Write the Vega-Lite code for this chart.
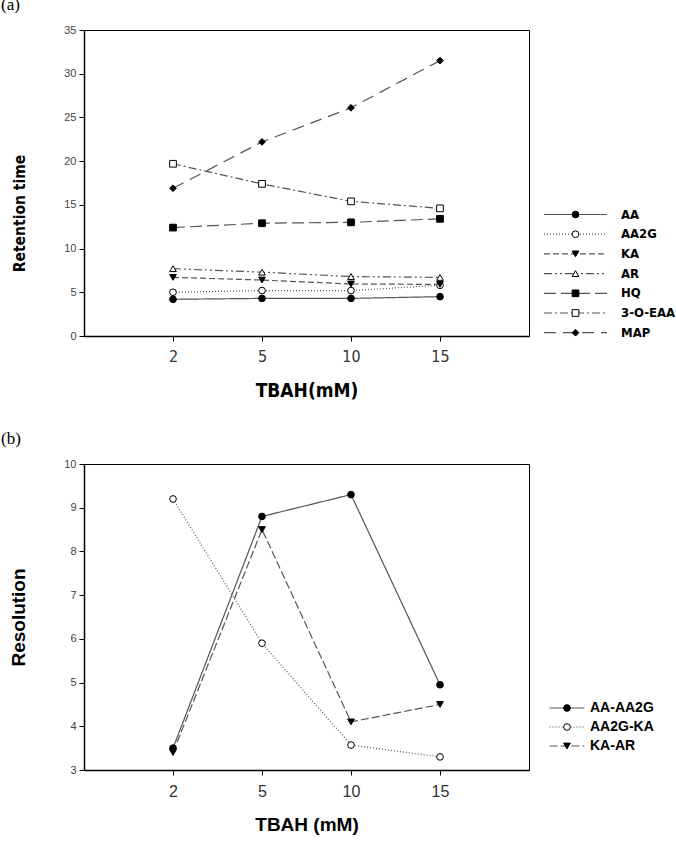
{
  "$schema": "https://vega.github.io/schema/vega-lite/v6.json",
  "background": "white",
  "padding": {"left": 0, "top": -5, "right": 0, "bottom": 0},
  "spacing": 28,
  "config": {
    "view": {"stroke": "black", "strokeWidth": 1},
    "axis": {"grid": false, "domainColor": "black", "domainWidth": 1.5, "tickColor": "black", "tickSize": 5, "labelAngle": 0}
  },
  "resolve": {
    "scale": {"strokeDash": "independent", "shape": "independent", "fill": "independent", "x": "independent", "y": "independent"},
    "legend": {"strokeDash": "independent", "shape": "independent", "fill": "independent"}
  },
  "vconcat": [
    {
      "title": {"text": "(a)", "anchor": "start", "frame": "group", "dx": -83, "font": "Liberation Serif", "fontSize": 17, "fontWeight": "normal", "color": "black", "offset": 10},
      "width": 445,
      "height": 306,
      "data": {"values": [
        {"TBAH": 2, "compound": "AA", "rt": 4.2}, {"TBAH": 5, "compound": "AA", "rt": 4.3}, {"TBAH": 10, "compound": "AA", "rt": 4.3}, {"TBAH": 15, "compound": "AA", "rt": 4.5},
        {"TBAH": 2, "compound": "AA2G", "rt": 5.0}, {"TBAH": 5, "compound": "AA2G", "rt": 5.2}, {"TBAH": 10, "compound": "AA2G", "rt": 5.2}, {"TBAH": 15, "compound": "AA2G", "rt": 5.8},
        {"TBAH": 2, "compound": "KA", "rt": 6.7}, {"TBAH": 5, "compound": "KA", "rt": 6.4}, {"TBAH": 10, "compound": "KA", "rt": 5.95}, {"TBAH": 15, "compound": "KA", "rt": 5.9},
        {"TBAH": 2, "compound": "AR", "rt": 7.7}, {"TBAH": 5, "compound": "AR", "rt": 7.3}, {"TBAH": 10, "compound": "AR", "rt": 6.8}, {"TBAH": 15, "compound": "AR", "rt": 6.7},
        {"TBAH": 2, "compound": "HQ", "rt": 12.4}, {"TBAH": 5, "compound": "HQ", "rt": 12.9}, {"TBAH": 10, "compound": "HQ", "rt": 13.0}, {"TBAH": 15, "compound": "HQ", "rt": 13.4},
        {"TBAH": 2, "compound": "3-O-EAA", "rt": 19.7}, {"TBAH": 5, "compound": "3-O-EAA", "rt": 17.4}, {"TBAH": 10, "compound": "3-O-EAA", "rt": 15.4}, {"TBAH": 15, "compound": "3-O-EAA", "rt": 14.6},
        {"TBAH": 2, "compound": "MAP", "rt": 16.9}, {"TBAH": 5, "compound": "MAP", "rt": 22.2}, {"TBAH": 10, "compound": "MAP", "rt": 26.1}, {"TBAH": 15, "compound": "MAP", "rt": 31.5}
      ]},
      "encoding": {
        "x": {"field": "TBAH", "type": "ordinal", "scale": {"type": "point", "padding": 1},
          "axis": {"title": "TBAH(mM)", "labelPadding": 7, "labelFont": "DejaVu Sans Condensed, sans-serif", "labelFontSize": 16, "labelColor": "#333",
            "titleFont": "DejaVu Sans Condensed, sans-serif", "titleFontSize": 19, "titleFontWeight": "bold", "titleColor": "black", "titleBaseline": "alphabetic", "titleY": 60}},
        "y": {"field": "rt", "type": "quantitative", "scale": {"domain": [0, 35], "nice": false},
          "axis": {"title": "Retention time", "values": [0, 5, 10, 15, 20, 25, 30, 35], "labelPadding": 3, "labelFont": "Liberation Sans", "labelFontSize": 11, "labelColor": "#444",
            "titleFont": "DejaVu Sans Condensed, sans-serif", "titleFontSize": 15.5, "titleFontWeight": "bold", "titleColor": "black", "titleBaseline": "alphabetic", "titleX": -60, "titleY": 183}}
      },
      "layer": [
        {
          "mark": {"type": "line", "stroke": "#555", "strokeWidth": 1.2},
          "encoding": {
            "strokeDash": {"field": "compound", "type": "nominal", "sort": ["AA", "AA2G", "KA", "AR", "HQ", "3-O-EAA", "MAP"],
              "scale": {"range": [[1, 0], [1, 2], [6, 3], [8, 3, 2, 3, 2, 3], [12, 5], [8, 3, 2, 3], [12, 7]]},
              "legend": {"title": null, "orient": "none", "legendX": 485, "legendY": 178, "padding": 0, "symbolType": "M-9.4,0H9.4", "symbolSize": 45, "symbolFillColor": "transparent", "symbolStrokeColor": "#555", "symbolStrokeWidth": 1.2, "labelOffset": 39, "rowPadding": 5.7, "labelFont": "DejaVu Sans Condensed, sans-serif", "labelFontSize": 13, "labelFontWeight": "bold", "labelColor": "black", "labelLimit": 0}}
          }
        },
        {
          "mark": {"type": "point", "filled": true, "stroke": "black", "strokeWidth": 1, "size": 45, "opacity": 1},
          "encoding": {
            "shape": {"field": "compound", "type": "nominal",
              "scale": {"domain": ["AA", "AA2G", "KA", "AR", "HQ", "3-O-EAA", "MAP"], "range": ["circle", "circle", "triangle-down", "triangle-up", "square", "square", "diamond"]},
              "legend": {"title": null, "orient": "none", "legendX": 485, "legendY": 178, "padding": 0, "symbolSize": 45, "symbolStrokeWidth": 1, "labelOpacity": 0, "labelOffset": 39, "rowPadding": 5.7, "labelFont": "DejaVu Sans Condensed, sans-serif", "labelFontSize": 13, "labelFontWeight": "bold", "labelLimit": 0,
                "encode": {"symbols": {"stroke": {"value": "black"}, "strokeWidth": {"value": 1}}}}},
            "fill": {"field": "compound", "type": "nominal",
              "scale": {"domain": ["AA", "AA2G", "KA", "AR", "HQ", "3-O-EAA", "MAP"], "range": ["black", "white", "black", "white", "black", "white", "black"]},
              "legend": {"title": null, "orient": "none", "legendX": 485, "legendY": 178, "padding": 0, "symbolSize": 45, "symbolStrokeWidth": 1, "labelOpacity": 0, "labelOffset": 39, "rowPadding": 5.7, "labelFont": "DejaVu Sans Condensed, sans-serif", "labelFontSize": 13, "labelFontWeight": "bold", "labelLimit": 0,
                "encode": {"symbols": {"stroke": {"value": "black"}, "strokeWidth": {"value": 1}}}}}
          }
        }
      ]
    },
    {
      "title": {"text": "(b)", "anchor": "start", "frame": "group", "dx": -83, "font": "Liberation Serif", "fontSize": 17, "fontWeight": "normal", "color": "black", "offset": 10},
      "width": 445,
      "height": 306,
      "data": {"values": [
        {"TBAH": 2, "pair": "AA-AA2G", "res": 3.5}, {"TBAH": 5, "pair": "AA-AA2G", "res": 8.8}, {"TBAH": 10, "pair": "AA-AA2G", "res": 9.3}, {"TBAH": 15, "pair": "AA-AA2G", "res": 4.95},
        {"TBAH": 2, "pair": "AA2G-KA", "res": 9.2}, {"TBAH": 5, "pair": "AA2G-KA", "res": 5.9}, {"TBAH": 10, "pair": "AA2G-KA", "res": 3.57}, {"TBAH": 15, "pair": "AA2G-KA", "res": 3.3},
        {"TBAH": 2, "pair": "KA-AR", "res": 3.4}, {"TBAH": 5, "pair": "KA-AR", "res": 8.5}, {"TBAH": 10, "pair": "KA-AR", "res": 4.1}, {"TBAH": 15, "pair": "KA-AR", "res": 4.5}
      ]},
      "encoding": {
        "x": {"field": "TBAH", "type": "ordinal", "scale": {"type": "point", "padding": 1},
          "axis": {"title": "TBAH (mM)", "labelPadding": 8, "labelFont": "Liberation Sans", "labelFontSize": 16, "labelColor": "#333",
            "titleFont": "Liberation Sans", "titleFontSize": 19, "titleFontWeight": "bold", "titleColor": "black", "titleBaseline": "alphabetic", "titleY": 60}},
        "y": {"field": "res", "type": "quantitative", "scale": {"domain": [3, 10], "nice": false, "zero": false},
          "axis": {"title": "Resolution", "values": [3, 4, 5, 6, 7, 8, 9, 10], "labelPadding": 3, "labelFont": "Liberation Sans", "labelFontSize": 11, "labelColor": "#444",
            "titleFont": "Liberation Sans", "titleFontSize": 19, "titleFontWeight": "bold", "titleColor": "black", "titleBaseline": "alphabetic", "titleX": -60}}
      },
      "layer": [
        {
          "mark": {"type": "line", "stroke": "#555", "strokeWidth": 1.2},
          "encoding": {
            "strokeDash": {"field": "pair", "type": "nominal", "sort": ["AA-AA2G", "AA2G-KA", "KA-AR"],
              "scale": {"range": [[1, 0], [1, 2], [8, 3]]},
              "legend": {"title": null, "orient": "none", "legendX": 476, "legendY": 237, "padding": 0, "symbolType": "M-5.2,0H5.2", "symbolSize": 45, "symbolFillColor": "transparent", "symbolStrokeColor": "#555", "symbolStrokeWidth": 1.2, "labelOffset": 16, "rowPadding": 5, "labelFont": "Liberation Sans", "labelFontSize": 14, "labelFontWeight": "bold", "labelColor": "black", "labelLimit": 0}}
          }
        },
        {
          "mark": {"type": "point", "filled": true, "stroke": "black", "strokeWidth": 1, "size": 45, "opacity": 1},
          "encoding": {
            "shape": {"field": "pair", "type": "nominal",
              "scale": {"domain": ["AA-AA2G", "AA2G-KA", "KA-AR"], "range": ["circle", "circle", "triangle-down"]},
              "legend": {"title": null, "orient": "none", "legendX": 476, "legendY": 237, "padding": 0, "symbolSize": 45, "symbolStrokeWidth": 1, "labelOpacity": 0, "labelOffset": 16, "rowPadding": 5, "labelFont": "Liberation Sans", "labelFontSize": 14, "labelFontWeight": "bold", "labelLimit": 0,
                "encode": {"symbols": {"stroke": {"value": "black"}, "strokeWidth": {"value": 1}}}}},
            "fill": {"field": "pair", "type": "nominal",
              "scale": {"domain": ["AA-AA2G", "AA2G-KA", "KA-AR"], "range": ["black", "white", "black"]},
              "legend": {"title": null, "orient": "none", "legendX": 476, "legendY": 237, "padding": 0, "symbolSize": 45, "symbolStrokeWidth": 1, "labelOpacity": 0, "labelOffset": 16, "rowPadding": 5, "labelFont": "Liberation Sans", "labelFontSize": 14, "labelFontWeight": "bold", "labelLimit": 0,
                "encode": {"symbols": {"stroke": {"value": "black"}, "strokeWidth": {"value": 1}}}}}
          }
        }
      ]
    }
  ]
}
